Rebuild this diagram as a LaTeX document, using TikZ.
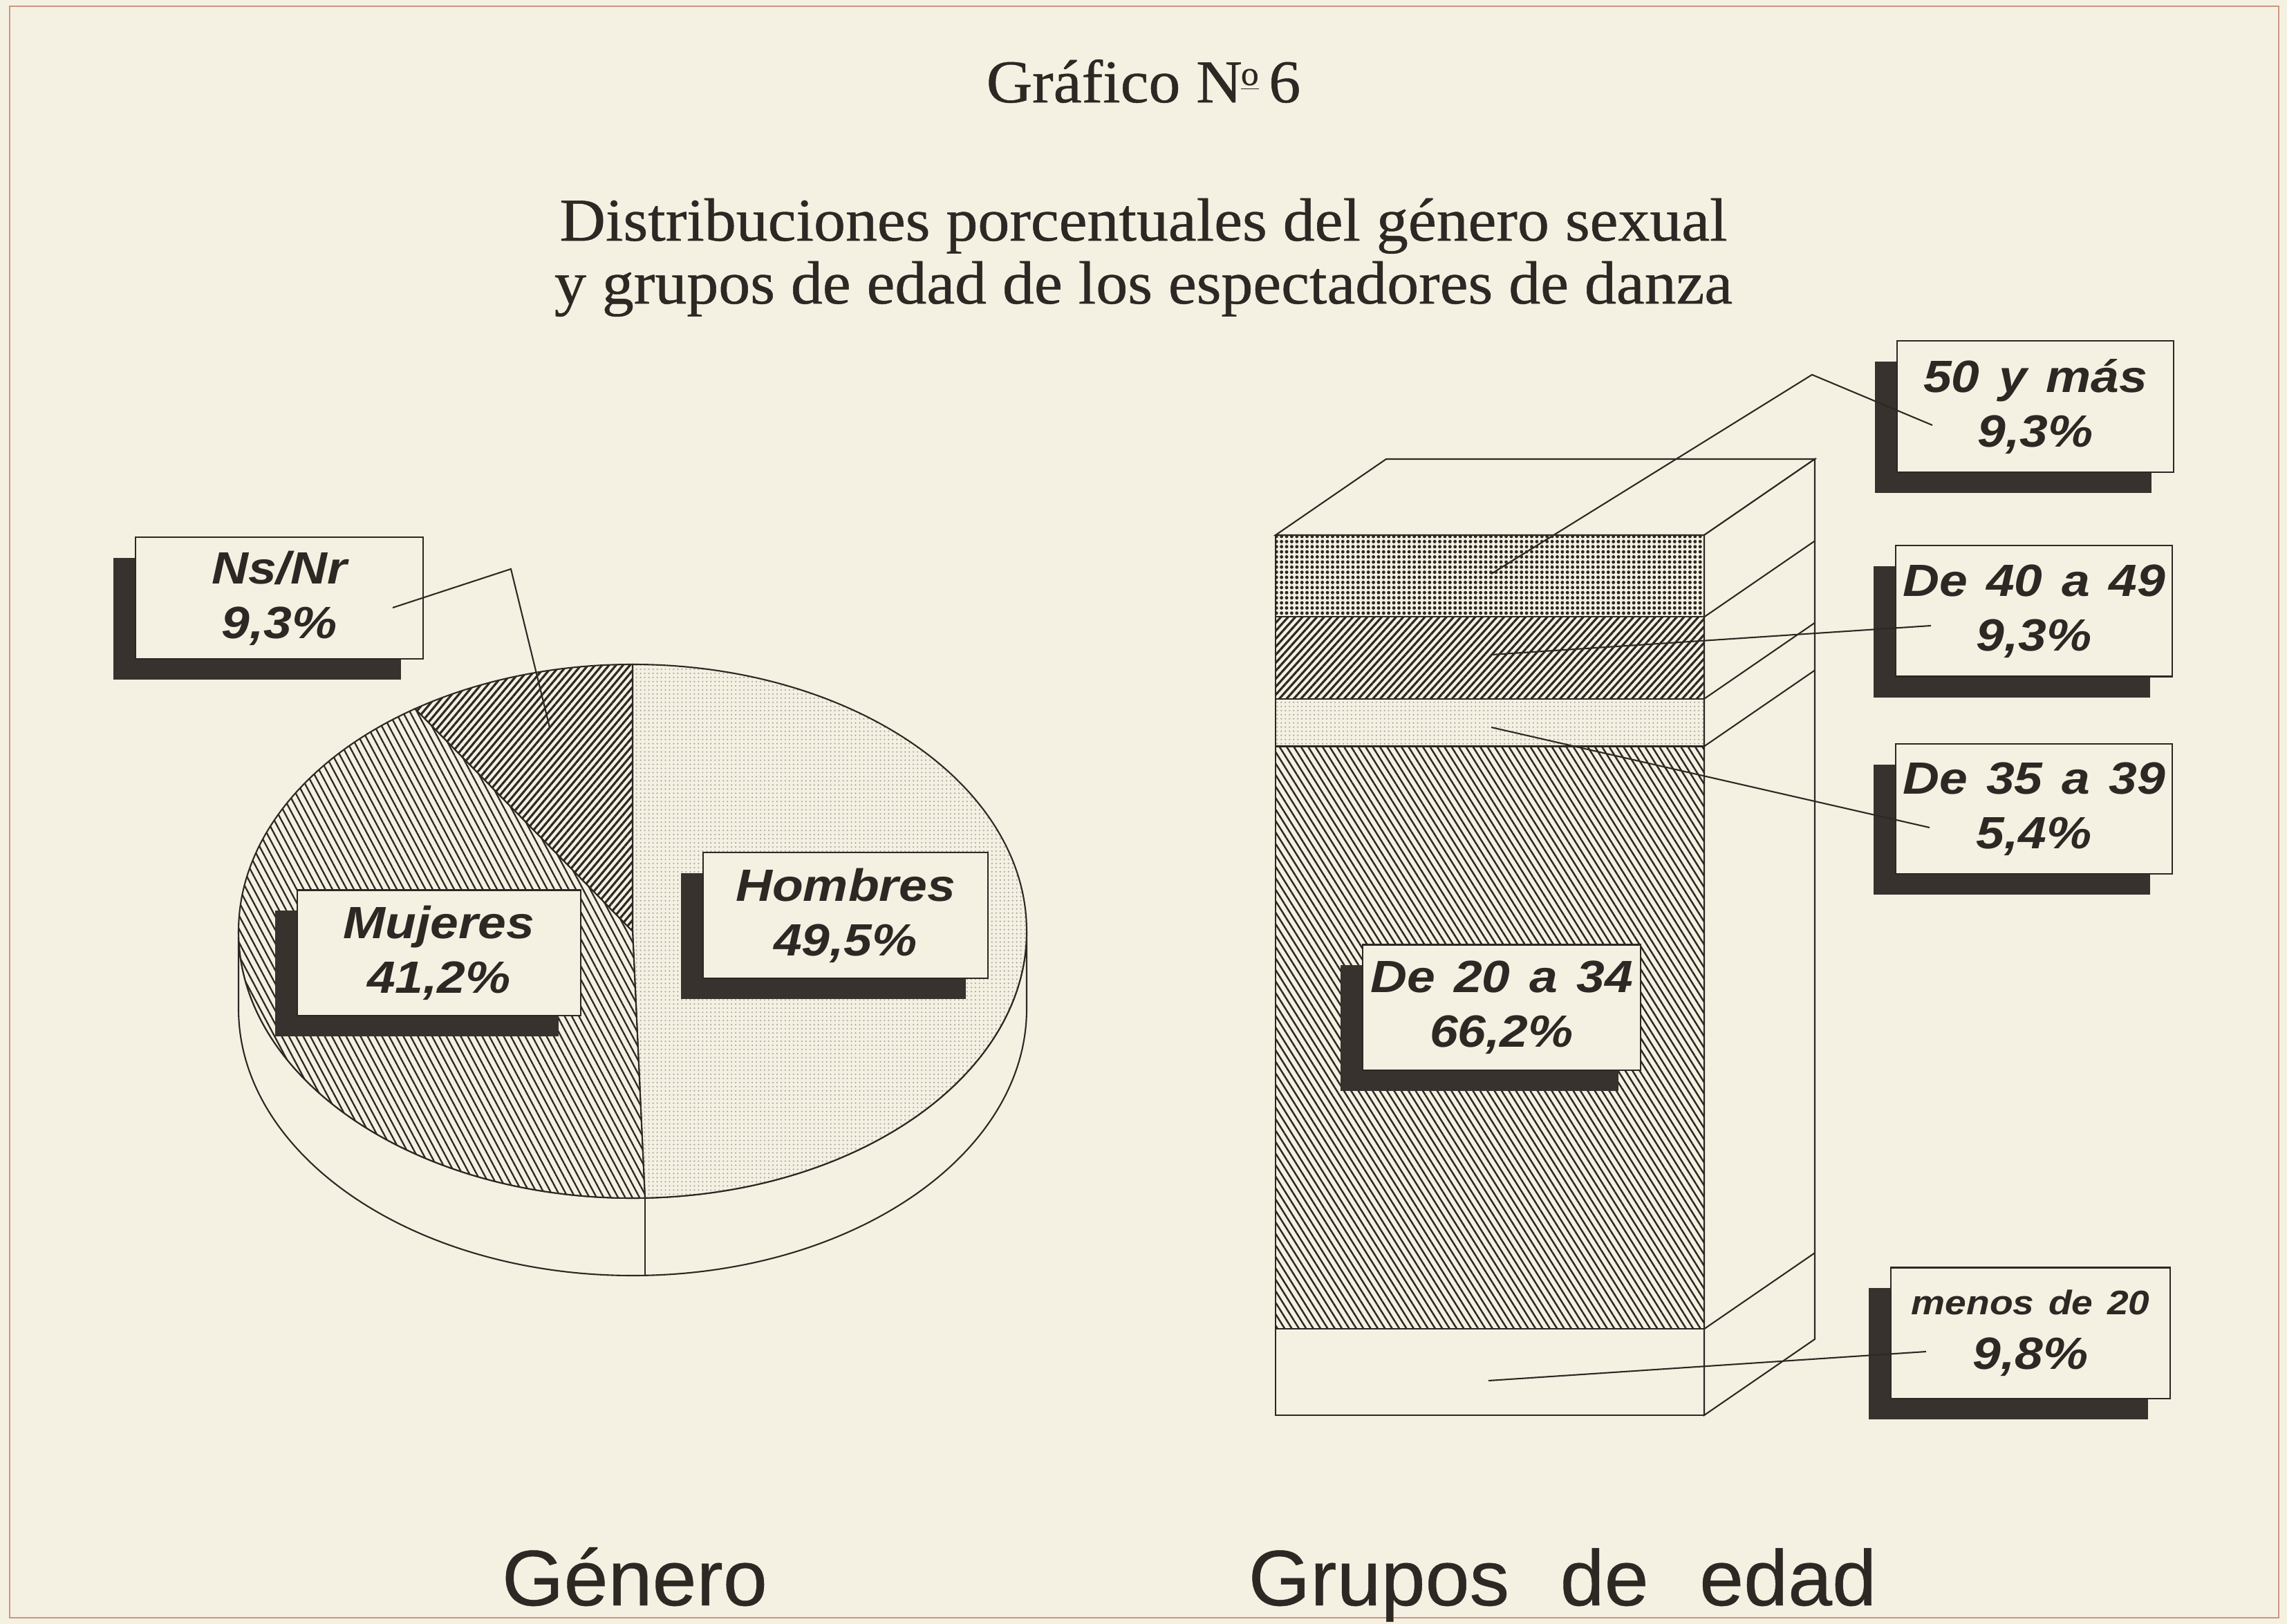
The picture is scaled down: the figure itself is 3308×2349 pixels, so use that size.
\documentclass[tikz,border=0pt]{standalone}
\usepackage{fontspec}
\setmainfont{Liberation Serif}
\newfontfamily\lblfont[FakeStretch=1.12,WordSpace=1.35]{Liberation Sans}
\newfontfamily\ttlfont[FakeStretch=1.045,FakeBold=0.6]{Liberation Serif}
\newfontfamily\axfont[FakeStretch=1.01,WordSpace=2.3,FakeBold=0.4]{Liberation Sans}
\usetikzlibrary{patterns.meta,shadows,calc}
\definecolor{paper}{RGB}{244,241,226}
\definecolor{ink}{RGB}{45,40,36}
\definecolor{shade}{RGB}{55,50,46}
\definecolor{framec}{RGB}{205,150,130}
\begin{document}
\begin{tikzpicture}[x=0.01cm,y=-0.01cm,
  lbl/.style={draw=ink, line width=0.6pt, fill=paper, inner sep=0pt, align=center, text=ink,
    font=\lblfont\bfseries\itshape\fontsize{18.6pt}{22.5pt}\selectfont,
    minimum width=4.05cm, minimum height=1.85cm,
    drop shadow={shadow xshift=-0.32cm, shadow yshift=-0.30cm, fill=shade, opacity=1}},
  leader/.style={draw=ink, line width=0.6pt},
  edgeln/.style={draw=ink, line width=0.6pt},
  pHom/.style={pattern={Dots[distance=1.7pt,radius=0.35pt]}, pattern color=ink!40},
  pMuj/.style={pattern={Lines[angle=-62,distance=2.6pt,line width=0.65pt]}, pattern color=ink},
  pNs/.style={pattern={Lines[angle=50,distance=2.2pt,line width=0.9pt]}, pattern color=ink},
  pMas/.style={pattern={Dots[distance=2.1pt,radius=0.7pt]}, pattern color=ink},
  pCuar/.style={pattern={Lines[angle=48,distance=2.2pt,line width=0.9pt]}, pattern color=ink},
  pTrein/.style={pattern={Dots[distance=1.7pt,radius=0.35pt]}, pattern color=ink!40},
  pVein/.style={pattern={Lines[angle=-58,distance=2.5pt,line width=0.7pt]}, pattern color=ink},
  ttl/.style={font=\ttlfont\fontsize{25pt}{28pt}\selectfont, text=ink, anchor=base, inner sep=0pt},
  axl/.style={font=\axfont\fontsize{32.4pt}{36pt}\selectfont, text=ink, anchor=base, inner sep=0pt}
]
% page
\fill[paper] (0,0) rectangle (3308,2349);
\useasboundingbox (0,0) rectangle (3308,2349);
\draw[framec, line width=0.6pt] (14,9) rectangle (3296,2340);

% titles
\node[ttl] (t1) at (1654,148) {Gráfico N\kern-0.02em\raisebox{0.62ex}{\underline{\fontsize{14pt}{14pt}\selectfont o}}\,6};
\node[ttl] (t2) at (1654,348) {Distribuciones porcentuales del género sexual};
\node[ttl] (t3) at (1654,439) {y grupos de edad de los espectadores de danza};

% ---------------- pie ----------------
\coordinate (pc) at (915,1347);
% side of the pie
\filldraw[fill=paper, edgeln] (1485,1347) -- (1485,1459)
  arc[start angle=0, end angle=180, x radius=570, y radius=386] -- (345,1347)
  arc[start angle=180, end angle=0, x radius=570, y radius=386] -- cycle;
\draw[edgeln] (933,1733) -- (933,1845);
% sectors
\draw[edgeln, preaction={fill=paper}, pHom] (pc) -- ++(-90:570 and 386)
  arc[start angle=-90, end angle=88.2, x radius=570, y radius=386] -- cycle;
\draw[edgeln, preaction={fill=paper}, pMuj] (pc) -- ++(88.2:570 and 386)
  arc[start angle=88.2, end angle=236.5, x radius=570, y radius=386] -- cycle;
\draw[edgeln, preaction={fill=paper}, pNs] (pc) -- ++(236.5:570 and 386)
  arc[start angle=236.5, end angle=270, x radius=570, y radius=386] -- cycle;

% pie labels
\node[lbl, minimum width=4.15cm, minimum height=1.76cm] (ns) at (404,865) {Ns/Nr\\9,3\%};
\node[lbl, minimum width=4.10cm, minimum height=1.81cm] (muj) at (635,1378) {Mujeres\\41,2\%};
\node[lbl, minimum width=4.11cm, minimum height=1.82cm] (hom) at (1223,1324) {Hombres\\49,5\%};

\coordinate (nsA) at (568,879);
\coordinate (nsB) at (739,823);
\coordinate (nsC) at (795,1052);
\draw[leader] (nsA) -- (nsB) -- (nsC);

% ---------------- bar ----------------
% front face layers
\draw[edgeln, preaction={fill=paper}, pMas]   (1845,774)    rectangle (2465,892.4);
\draw[edgeln, preaction={fill=paper}, pCuar]  (1845,892.4)  rectangle (2465,1010.8);
\draw[edgeln, preaction={fill=paper}, pTrein] (1845,1010.8) rectangle (2465,1079.5);
\draw[edgeln, preaction={fill=paper}, pVein]  (1845,1079.5) rectangle (2465,1922.2);
\draw[edgeln, fill=paper]                     (1845,1922.2) rectangle (2465,2047);
% top face
\filldraw[fill=paper, edgeln] (1845,774) -- (2005,664) -- (2625,664) -- (2465,774) -- cycle;
% side face
\filldraw[fill=paper, edgeln] (2465,774) -- (2625,664) -- (2625,1937) -- (2465,2047) -- cycle;
\foreach \yy in {892.4,1010.8,1079.5,1922.2}
  \draw[edgeln] (2465,\yy) -- (2625,\yy-110);

% bar labels
\node[lbl, minimum width=4.00cm, minimum height=1.90cm] (m50) at (2944,588) {50 y más\\9,3\%};
\node[lbl, minimum width=4.00cm, minimum height=1.89cm] (m40) at (2942,884) {De 40 a 49\\9,3\%};
\node[lbl, minimum width=4.00cm, minimum height=1.88cm] (m35) at (2942,1170) {De 35 a 39\\5,4\%};
\node[lbl, minimum width=4.02cm, minimum height=1.81cm] (m20) at (2172,1457) {De 20 a 34\\66,2\%};
\node[lbl, minimum width=4.03cm, minimum height=1.89cm] (m0) at (2937,1928)
  {{\fontsize{14pt}{22.5pt}\selectfont menos de 20}\\9,8\%};

\coordinate (a50) at (2157,830);
\coordinate (b50) at (2621,542);
\coordinate (c50) at (2795,615);
\draw[leader] (a50) -- (b50) -- (c50);
\coordinate (a40) at (2157,947);
\coordinate (c40) at (2793,905);
\draw[leader] (a40) -- (c40);
\coordinate (a35) at (2157,1052);
\coordinate (c35) at (2791,1197);
\draw[leader] (a35) -- (c35);
\coordinate (a0) at (2153,1997);
\coordinate (c0) at (2786,1955);
\draw[leader] (a0) -- (c0);

% axis captions
\node[axl] (g1) at (918,2322) {Género};
\node[axl] (g2) at (2260,2322) {Grupos de edad};
\end{tikzpicture}
\end{document}
